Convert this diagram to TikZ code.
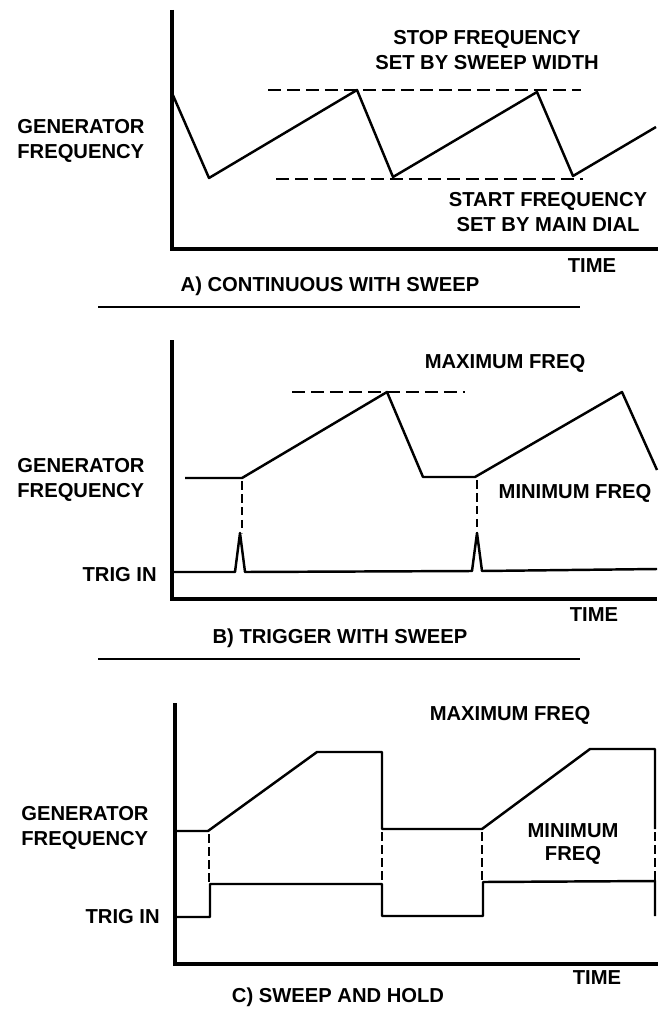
\documentclass[tikz,border=0pt]{standalone}
\usepackage{fontspec}
\setmainfont{Liberation Sans}
\begin{document}
\begin{tikzpicture}[
    x=0.02cm, y=-0.02cm,
    lbl/.style={font=\fontsize{11.5}{14.2}\selectfont\bfseries, inner sep=0pt, align=center},
    axes/.style={line width=2.5pt, line join=miter},
    wave/.style={line width=1.4pt, line join=round},
    limitline/.style={line width=1.4pt, dash pattern=on 0.26cm off 0.12cm},
    trigdash/.style={line width=1.4pt, dash pattern=on 0.17cm off 0.09cm},
    divider/.style={line width=1.5pt}
]
    \useasboundingbox (0,0) rectangle (664,1010);

    % A) continuous with sweep
    \draw[axes] (172,10) -- (172,249) -- (658,249);
    \draw[wave] (172,93) -- (209,178) -- (357,90) -- (393,177) -- (537,92) -- (573,176) -- (656,127);
    \draw[limitline] (268,90) -- (581,90);
    \draw[limitline] (276,179) -- (583,179);
    \node[lbl, align=left, anchor=west] (genA) at (17,141) {GENERATOR\\FREQUENCY};
    \node[lbl] (stopA) at (487,50) {STOP FREQUENCY\\SET BY SWEEP WIDTH};
    \node[lbl] (startA) at (548,212) {START FREQUENCY\\SET BY MAIN DIAL};
    \node[lbl] (timeA) at (592,266) {TIME};
    \node[lbl] (capA) at (330,286) {A) CONTINUOUS WITH SWEEP};
    \draw[divider] (98,307) -- (580,307);

    % B) trigger with sweep
    \draw[axes] (172,340) -- (172,599) -- (657,599);
    \draw[wave] (185,478) -- (242,478) -- (387,392) -- (423,477) -- (475,477) -- (622,392) -- (657,470);
    \draw[limitline] (292,392) -- (465,392);
    \draw[wave] (172,572) -- (235,572) -- (240,533) -- (245,572) -- (472,571) -- (477,533) -- (482,571) -- (657,569);
    \draw[trigdash] (242,481) -- (242,533);
    \draw[trigdash] (477,480) -- (477,533);
    \node[lbl, align=left, anchor=west] (genB) at (17,480) {GENERATOR\\FREQUENCY};
    \node[lbl, anchor=east] (trigB) at (157,575) {TRIG IN};
    \node[lbl] (maxB) at (505,363) {MAXIMUM FREQ};
    \node[lbl] (minB) at (575,493) {MINIMUM FREQ};
    \node[lbl] (timeB) at (594,615) {TIME};
    \node[lbl] (capB) at (340,638) {B) TRIGGER WITH SWEEP};
    \draw[divider] (98,659) -- (580,659);

    % C) sweep and hold
    \draw[axes] (175,703) -- (175,964) -- (658,964);
    \draw[wave] (175,831) -- (208,831) -- (317,752) -- (382,752) -- (382,829) -- (482,829) -- (590,749) -- (655,749) -- (655,829);
    \draw[wave] (175,917) -- (210,917) -- (210,884) -- (382,884) -- (382,916) -- (483,916) -- (483,882) -- (655,881) -- (655,916);
    \draw[trigdash] (209,834) -- (209,882);
    \draw[trigdash] (382,832) -- (382,882);
    \draw[trigdash] (482,832) -- (482,881);
    \draw[trigdash] (655,832) -- (655,880);
    \node[lbl, align=left, anchor=west] (genC) at (21,828) {GENERATOR\\FREQUENCY};
    \node[lbl, anchor=east] (trigC) at (160,917) {TRIG IN};
    \node[lbl] (maxC) at (510,715) {MAXIMUM FREQ};
    \node[lbl, font=\fontsize{11.5}{12.8}\selectfont\bfseries] (minC) at (573,844) {MINIMUM\\FREQ};
    \node[lbl] (timeC) at (597,978) {TIME};
    \node[lbl] (capC) at (338,997) {C) SWEEP AND HOLD};
\end{tikzpicture}
\end{document}
